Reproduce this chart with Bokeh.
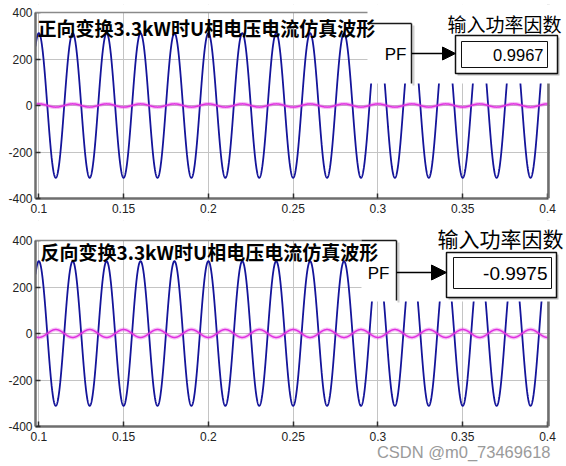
import numpy as np
from bokeh.plotting import figure
from bokeh.layouts import column
from bokeh.models import (FixedTicker, Range1d, Label, BoxAnnotation, Arrow, NormalHead,
                          Span, Title)
from bokeh.embed import file_html
from bokeh.resources import INLINE

# ---------------- data ----------------
x_ticks = [0.1, 0.15, 0.2, 0.25, 0.3, 0.35, 0.4]
x_tick_labels = ["0.1", "0.15", "0.2", "0.25", "0.3", "0.35", "0.4"]
y_ticks = [-400, -200, 0, 200, 400]
y_tick_labels = ["-400", "-200", "0", "200", "400"]
t_start, t_stop = 0.09805, 0.40059   # visible time window of the scope
y_min, y_max = -400, 400

grid_freq_hz = 50             # one period = 0.02 s
voltage_peak = 311            # V, peaks at 0.10, 0.12, ...
voltage_peak_time = 0.1
current_peak = [7, 17]        # forward / reverse
current_phase_deg = [0, 180]  # in phase / anti-phase

titles = ["正向变换3.3kW时U相电压电流仿真波形", "反向变换3.3kW时U相电压电流仿真波形"]
pf_values = ["0.9967", "-0.9975"]
pf_caption = "输入功率因数"
pf_port = "PF"
watermark = "CSDN @m0_73469618"

BLUE = "#14149a"
MAGENTA = "#e030e0"
AXIS = "#6e6e6e"
CJK = "Noto Sans CJK SC"
LAT = "Liberation Sans"

t = np.linspace(t_start, t_stop, 4000)
w = 2 * np.pi * grid_freq_hz

PX_T = 0.3 / 508.7      # seconds per pixel
PX_Y = 186.0 / 800.0    # pixels per unit


def make_fig(idx, height, top_b, bottom_b, frame_top_px, y400_px):
    fx = lambda px: t_start + (px - 35) * PX_T
    fy = lambda py: y_max - (py - y400_px) / PX_Y
    p = figure(width=566, height=height, output_backend="svg", toolbar_location=None,
               x_range=Range1d(t_start, fx(566)), y_range=Range1d(y_min, fy(frame_top_px)),
               min_border_left=35, min_border_right=0,
               min_border_top=top_b, min_border_bottom=bottom_b)
    p.outline_line_color = None
    p.background_fill_color = "white"

    xt = FixedTicker(ticks=x_ticks)
    yt = FixedTicker(ticks=y_ticks)
    p.xaxis.ticker = xt
    p.yaxis.ticker = yt
    p.xaxis.bounds = (t_start, t_stop)
    p.yaxis.bounds = (y_min, y_max)
    p.xaxis.major_label_overrides = dict(zip(x_ticks, x_tick_labels))
    p.yaxis.major_label_overrides = dict(zip(y_ticks, y_tick_labels))
    for ax in (p.xaxis[0], p.yaxis[0]):
        ax.axis_line_color = AXIS
        ax.axis_line_width = 2.5
        ax.major_tick_in = 5
        ax.major_tick_out = 0
        ax.minor_tick_line_color = None
        ax.major_tick_line_color = "#303030"
        ax.major_tick_line_width = 1.5
        ax.major_label_text_font = LAT
        ax.major_label_text_font_size = "12px"
        ax.major_label_text_color = "#222222"
    p.xaxis.major_label_standoff = 5
    p.yaxis.major_label_standoff = 3

    p.xgrid.ticker = xt
    p.ygrid.ticker = yt
    p.grid.grid_line_color = "#c4c4c4"
    p.grid.grid_line_width = 1

    v = voltage_peak * np.cos(w * (t - voltage_peak_time))
    i = current_peak[idx] * np.cos(w * (t - voltage_peak_time) + np.deg2rad(current_phase_deg[idx]))
    p.line(t, v, line_color=BLUE, line_width=1.8)
    p.line(t, i, line_color=MAGENTA, line_width=4, line_alpha=0.3)
    p.line(t, i, line_color=MAGENTA, line_width=1.5)

    # white margins outside the scope box (right strip, strip above 400)
    p.add_layout(BoxAnnotation(left=fx(549.4), fill_color="white", fill_alpha=1, line_alpha=0))
    p.add_layout(BoxAnnotation(bottom=y_max, fill_color="white", fill_alpha=1, line_alpha=0))
    # top and right edges of the scope box
    p.add_layout(Span(location=y_max, dimension="width", line_color="#8a8a8a", line_width=1.5))
    p.add_layout(Span(location=fx(548), dimension="height", line_color=AXIS, line_width=2.5))
    return p, fx, fy


def seg(p, fx, fy, x0, y0, x1, y1, color="#1a1a1a", width=1.5):
    p.add_layout(Arrow(end=None, x_start=fx(x0), y_start=fy(y0), x_end=fx(x1), y_end=fy(y1),
                       line_color=color, line_width=width))


def box(p, fx, fy, l, t_, r, b, fill="white", line=None, lw=1):
    p.add_layout(BoxAnnotation(left=fx(l), right=fx(r), top=fy(t_), bottom=fy(b),
                               fill_color=fill, fill_alpha=1,
                               line_color=line, line_width=lw, line_alpha=1 if line else 0))


def text(p, fx, fy, x, y, s, size, font=CJK, align="left", style="normal", color="black"):
    p.add_layout(Label(x=fx(x), y=fy(y), text=s, text_font=font, text_font_size=size,
                       text_align=align, text_baseline="middle", text_font_style=style,
                       text_color=color))


# ---------------- top figure (page rows 0..220) ----------------
p1, fx1, fy1 = make_fig(0, 220, 4, 22, 4, 12)
box(p1, fx1, fy1, 367, -30, 600, 83)                           # pasted block area
seg(p1, fx1, fy1, 413, 25, 413, 85, color="#d0d0d0", width=2)  # shadow
seg(p1, fx1, fy1, 367, 23, 411, 23)
seg(p1, fx1, fy1, 411, 23, 411, 83)
box(p1, fx1, fy1, 457, 37, 559, 75, fill="#b8b8b8")           # display shadow
box(p1, fx1, fy1, 455, 35, 557, 73, line="#111111", lw=1.5)
box(p1, fx1, fy1, 461, 41, 547, 67, line="#111111", lw=1)
p1.add_layout(Arrow(end=NormalHead(size=13, fill_color="black", line_color="black"),
                    x_start=fx1(411), y_start=fy1(53), x_end=fx1(455), y_end=fy1(53),
                    line_color="black", line_width=1.3))
text(p1, fx1, fy1, 395, 54, pf_port, "17px", font=LAT, align="center")
text(p1, fx1, fy1, 543, 54, pf_values[0], "16.5px", font=LAT, align="right")
text(p1, fx1, fy1, 504, 23, pf_caption, "19px", align="center")
text(p1, fx1, fy1, 37, 26.5, titles[0], "19px", style="bold")

# ---------------- bottom figure (page rows 220..466) ----------------
p2, fx2, fy2 = make_fig(1, 246, 0, 40, 220, 240)
box(p2, fx2, fy2, 361, 200, 600, 301)
seg(p2, fx2, fy2, 398, 242, 398, 302, color="#d0d0d0", width=2)
seg(p2, fx2, fy2, 361, 240, 396, 240)
seg(p2, fx2, fy2, 396, 240, 396, 300)
box(p2, fx2, fy2, 448, 254, 558, 299, fill="#b8b8b8")
box(p2, fx2, fy2, 446, 252, 556, 297, line="#111111", lw=1.5)
box(p2, fx2, fy2, 453, 257, 551, 288, line="#111111", lw=1)
p2.add_layout(Arrow(end=NormalHead(size=15, fill_color="black", line_color="black"),
                    x_start=fx2(396), y_start=fy2(272), x_end=fx2(446), y_end=fy2(272),
                    line_color="black", line_width=1.3))
text(p2, fx2, fy2, 378, 273, pf_port, "17px", font=LAT, align="center")
text(p2, fx2, fy2, 547, 273, pf_values[1], "19px", font=LAT, align="right")
text(p2, fx2, fy2, 500, 237.5, pf_caption, "21px", align="center")
text(p2, fx2, fy2, 40, 251, titles[1], "19px", style="bold")
p2.add_layout(Title(text=watermark, align="right", offset=16, standoff=-6,
                    text_font=LAT, text_font_size="16.5px", text_font_style="normal",
                    text_color="#9a9a9a"), "below")

layout = column(p1, p2, spacing=0)
open("out.html", "w").write(file_html(layout, INLINE))
